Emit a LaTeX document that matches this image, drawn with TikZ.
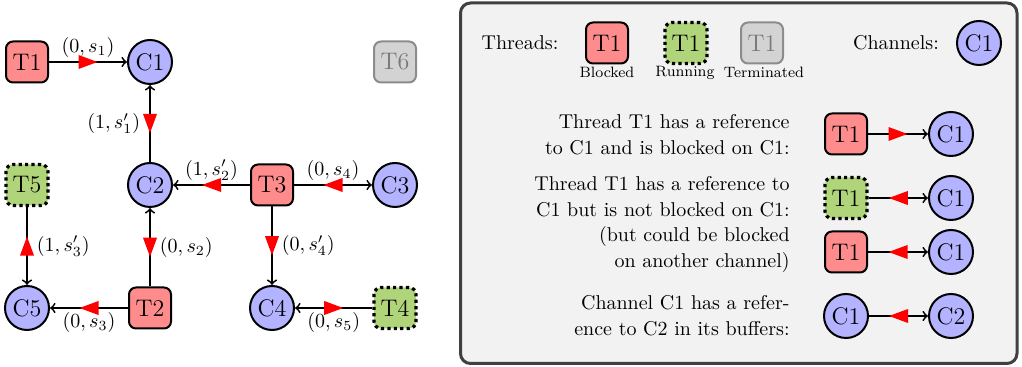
\documentclass[tikz,border=0pt]{standalone}
\usetikzlibrary{decorations.markings}
\definecolor{blockedfill}{RGB}{255,140,140}
\definecolor{runningfill}{RGB}{176,212,122}
\definecolor{termfill}{RGB}{211,211,211}
\definecolor{termdraw}{RGB}{140,140,140}
\definecolor{termtext}{RGB}{120,120,120}
\definecolor{chanfill}{RGB}{179,179,255}
\definecolor{legendfill}{RGB}{242,242,242}
\definecolor{legenddraw}{RGB}{64,64,64}
\begin{document}
\begin{tikzpicture}[x=0.5pt,y=-0.5pt,
  thread/.style={draw, line width=1pt, rounded corners=3.5pt, minimum width=21pt, minimum height=20.5pt, inner sep=0pt, font=\fontsize{12}{14}\selectfont},
  blocked/.style={thread, fill=blockedfill},
  running/.style={thread, fill=runningfill, line width=1.6pt, dash pattern=on 1.6pt off 1.6pt},
  terminated/.style={thread, fill=termfill, draw=termdraw, text=termtext},
  chan/.style={circle, draw, line width=1pt, fill=chanfill, minimum size=22pt, inner sep=0pt, font=\fontsize{12}{14}\selectfont},
  ref/.style={draw, line width=0.9pt, ->},
  fwd/.style={ref, postaction={decorate, decoration={markings, mark=at position 0.5 with {\fill[red] (4.75pt,0pt) -- (-4.75pt,3.5pt) -- (-4.75pt,-3.5pt) -- cycle;}}}},
  bwd/.style={ref, postaction={decorate, decoration={markings, mark=at position 0.5 with {\fill[red] (-4.75pt,0pt) -- (4.75pt,3.5pt) -- (4.75pt,-3.5pt) -- cycle;}}}},
  lbl/.style={inner sep=2pt, font=\fontsize{10}{12}\selectfont},
  desc/.style={anchor=east, align=right, inner sep=0pt, font=\fontsize{10}{13}\selectfont},
  small/.style={anchor=base, inner sep=0pt, font=\fontsize{7.5}{9}\selectfont}
]
\useasboundingbox (0,0) rectangle (1022,367);

% ---- graph ----
\node[blocked] (T1) at (27,62) {T1};
\node[chan] (C1) at (150,62) {C1};
\node[terminated] (T6) at (395,62) {T6};
\node[running] (T5) at (27,185) {T5};
\node[chan] (C2) at (150,185) {C2};
\node[blocked] (T3) at (272,185) {T3};
\node[chan] (C3) at (395,185) {C3};
\node[chan] (C5) at (27,308) {C5};
\node[blocked] (T2) at (150,308) {T2};
\node[chan] (C4) at (272,308) {C4};
\node[running] (T4) at (395,308) {T4};

\draw[fwd] (T1) -- node[lbl, above] {$(0, s_1)$} (C1);
\draw[bwd] (C2) -- node[lbl, left=2.5pt] {$(1, s'_1)$} (C1);
\draw[fwd] (T3) -- node[lbl, above] {$(1, s'_2)$} (C2);
\draw[bwd] (T3) -- node[lbl, above] {$(0, s_4)$} (C3);
\draw[fwd] (T3) -- node[lbl, right=2.5pt] {$(0, s'_4)$} (C4);
\draw[bwd] (T2) -- node[lbl, right=2.5pt] {$(0, s_2)$} (C2);
\draw[fwd] (T2) -- node[lbl, below] {$(0, s_3)$} (C5);
\draw[bwd] (T5) -- node[lbl, right=2.5pt] {$(1, s'_3)$} (C5);
\draw[bwd] (T4) -- node[lbl, below] {$(0, s_5)$} (C4);

% ---- legend ----
\draw[line width=1.5pt, draw=legenddraw, fill=legendfill, rounded corners=5pt] (460.5,3) rectangle (1017,363.5);

\node[inner sep=0pt, font=\fontsize{10}{12}\selectfont] (lthreads) at (520,43) {Threads:};
\node[blocked] (lb) at (607,43) {T1};
\node[running] (lr) at (686,43) {T1};
\node[terminated] (lt) at (762,43) {T1};
\node[small] (lbt) at (607,78) {Blocked};
\node[small] (lrt) at (685,77) {Running};
\node[small] (ltt) at (764,78) {Terminated};
\node[inner sep=0pt, font=\fontsize{10}{12}\selectfont] (lchan) at (896,43) {Channels:};
\node[chan] (lc) at (979,43) {C1};

\node[desc] (d1) at (790,134.5) {Thread T1 has a reference\\to C1 and is blocked on C1:};
\node[blocked] (r1t) at (846,134) {T1};
\node[chan] (r1c) at (951,134) {C1};
\draw[fwd] (r1t) -- (r1c);

\node[desc] (d2) at (790,196.5) {Thread T1 has a reference to\\C1 but is not blocked on C1:};
\node[running] (r2t) at (846,198) {T1};
\node[chan] (r2c) at (951,198) {C1};
\draw[bwd] (r2t) -- (r2c);

\node[desc] (d3) at (790,250) {(but could be blocked\\on another channel)};
\node[blocked] (r3t) at (846,252) {T1};
\node[chan] (r3c) at (951,252) {C1};
\draw[bwd] (r3t) -- (r3c);

\node[desc] (d4) at (790,316) {Channel C1 has a refer-\\ence to C2 in its buffers:};
\node[chan] (r4a) at (846,316) {C1};
\node[chan] (r4b) at (951,316) {C2};
\draw[bwd] (r4a) -- (r4b);
\end{tikzpicture}
\end{document}
